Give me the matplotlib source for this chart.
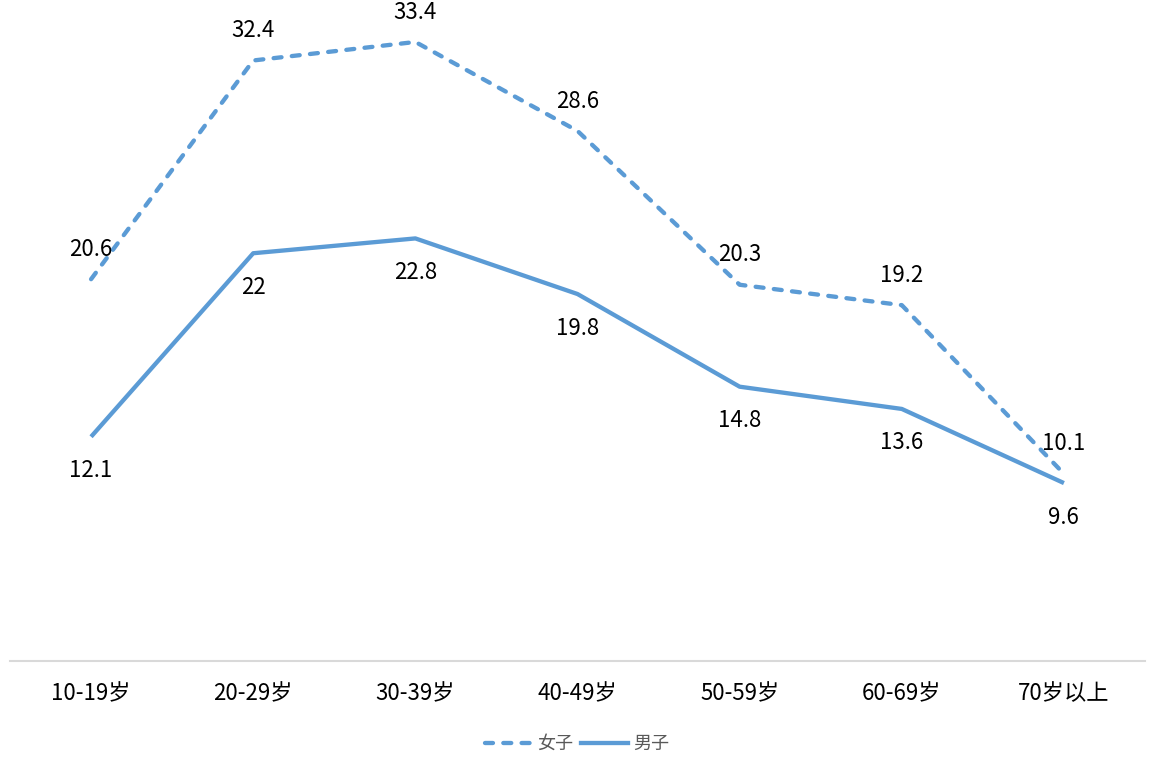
import matplotlib
matplotlib.use("Agg")
import matplotlib.pyplot as plt
from matplotlib.lines import Line2D

plt.rcParams['font.family'] = ['Noto Sans CJK SC', 'DejaVu Sans']

categories = ["10-19岁", "20-29岁", "30-39岁", "40-49岁", "50-59岁", "60-69岁", "70岁以上"]
female = [20.6, 32.4, 33.4, 28.6, 20.3, 19.2, 10.1]
male = [12.1, 22, 22.8, 19.8, 14.8, 13.6, 9.6]
female_label = "女子"
male_label = "男子"

color = "#5B9BD5"
W, H = 1158, 761
fig = plt.figure(figsize=(W / 100, H / 100), dpi=100)
ax = fig.add_axes([10 / W, 1 - 661 / H, (1145 - 10) / W, (661 - 12.3) / H])

x = list(range(len(categories)))
lw = 3.1
dash = (0, (1.85, 2.4))
ax.plot(x, female, color=color, lw=lw, linestyle=dash,
        dash_capstyle='round', label=female_label)
ax.plot(x, male, color=color, lw=lw, solid_capstyle='butt', label=male_label)

for xi, v in zip(x, female):
    ax.annotate(f"{v:g}", (xi, v), xytext=(0, 21.5), textcoords='offset points',
                ha='center', va='center', fontsize=16, color='black')
for xi, v in zip(x, male):
    ax.annotate(f"{v:g}", (xi, v), xytext=(0, -24.5), textcoords='offset points',
                ha='center', va='center', fontsize=16, color='black')

ax.set_xlim(-0.5, len(categories) - 0.5)
ax.set_ylim(0, 35)
ax.set_xticks(x)
ax.set_xticklabels(categories, fontsize=16, color='black')
ax.tick_params(axis='x', length=0, pad=15)
ax.set_yticks([])
for s in ['top', 'left', 'right']:
    ax.spines[s].set_visible(False)
ax.spines['bottom'].set_color('#D9D9D9')
ax.spines['bottom'].set_linewidth(1.5)

h1 = Line2D([], [], color=color, lw=lw, linestyle=dash, dash_capstyle='round')
h2 = Line2D([], [], color=color, lw=lw)
fig.legend([h1, h2], [female_label, male_label], loc='center',
           bbox_to_anchor=(577 / W, 1 - 744 / H), ncol=2, frameon=False,
           fontsize=13, labelcolor='#595959', handlelength=2.6, handletextpad=0.3,
           columnspacing=0.4)

fig.savefig("out.png", dpi=100)
